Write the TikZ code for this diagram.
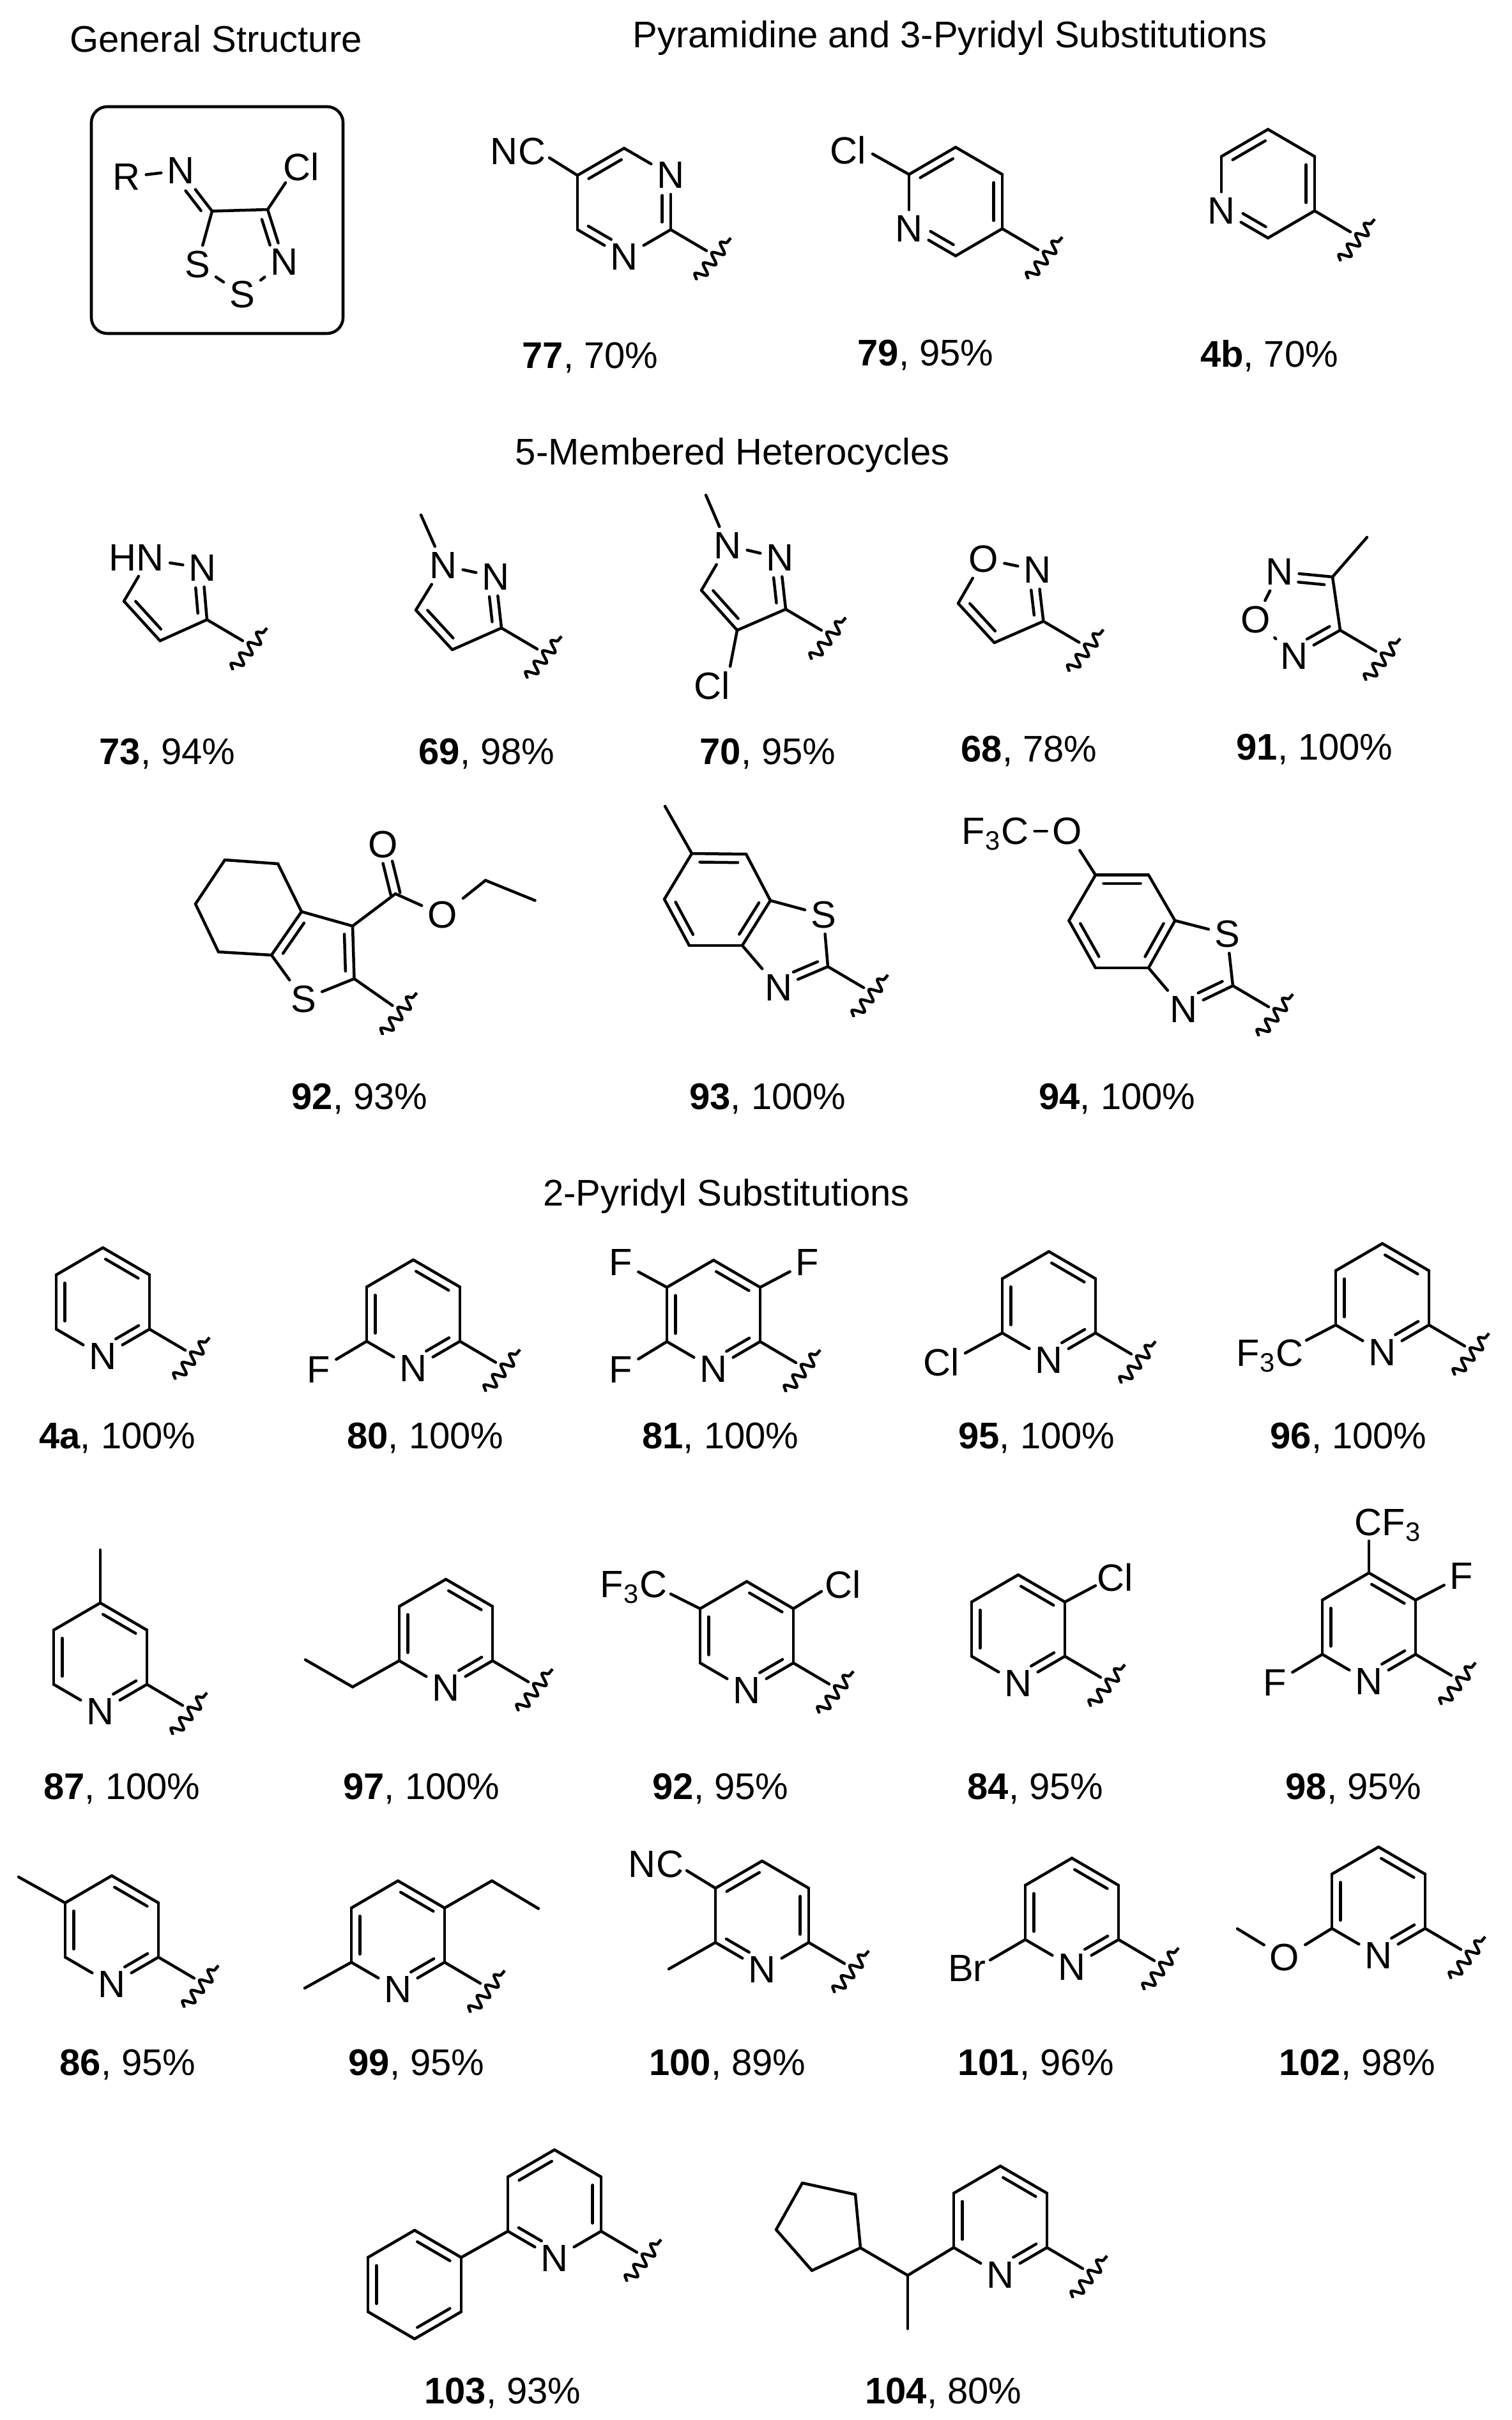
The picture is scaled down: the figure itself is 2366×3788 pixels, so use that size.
\documentclass[tikz,border=0pt]{standalone}
\usepackage{fontspec}
\setmainfont{Liberation Sans}
\usetikzlibrary{calc,decorations.pathmorphing}

\newcommand\chemfont{\fontsize{13.92}{16}\selectfont}
\newcommand\atomfont{\fontsize{14.3}{16}\selectfont}

\tikzset{
    bond/.style={line width=1.08pt,line cap=round},
    wavy/.style={line width=1.08pt,decorate,decoration={snake,segment length=5.05pt,amplitude=2pt}},
    atom/.style={inner sep=2.2pt,outer sep=0pt,text depth=0pt,font=\atomfont},
    title/.style={inner sep=0pt,anchor=base,font=\chemfont},
    cpd/.style={inner sep=0pt,anchor=base,font=\chemfont},
    genbox/.style={line width=1.1pt,rounded corners=6pt}
}

\newcommand\hexring[3]{
    \coordinate (#11) at (#2,#3-85);
    \coordinate (#12) at (#2+73,#3-42.5);
    \coordinate (#13) at (#2+73,#3+42.5);
    \coordinate (#14) at (#2,#3+85);
    \coordinate (#15) at (#2-73,#3+42.5);
    \coordinate (#16) at (#2-73,#3-42.5);
}
\newcommand\hexbonds[1]{
    \foreach \i/\j in {1/2,2/3,3/4,4/5,5/6,6/1}
    {
        \draw[bond] (#1\i) -- (#1\j);
    }
}
\newcommand\bonds[1]{
    \foreach \a/\b in {#1}
    {
        \draw[bond] (\a) -- (\b);
    }
}
\newcommand\dblf[4]{\draw[bond] ($(#1)!#3!(#2)!3.2pt!-90:(#2)$) -- ($(#1)!#4!(#2)!3.2pt!90:(#1)$);}
\newcommand\dbl[2]{\dblf{#1}{#2}{0.15}{0.85}}
\newcommand\dbls[2]{\dblf{#1}{#2}{0.37}{0.86}}
\newcommand\dble[2]{\dblf{#1}{#2}{0.14}{0.63}}
\newcommand\exodbl[2]{
    \draw[bond] ($(#1)!1.8pt!90:(#2)$) -- ($(#1)!0.64!(#2)!1.8pt!-90:(#1)$);
    \draw[bond] ($(#1)!1.8pt!-90:(#2)$) -- ($(#1)!0.64!(#2)!1.8pt!90:(#1)$);
}
\newcommand\wave[2][56,33]{
    \coordinate (#2e) at ($(#2)+(#1)$);
    \coordinate (#2a) at ($(#2e)+(-16,46)$);
    \coordinate (#2b) at ($(#2e)+(38,-20)$);
    \draw[bond] (#2) -- (#2e);
    \draw[wavy] (#2a) -- (#2b);
}
\newcommand\pyrA[3]{
    \hexring{#1}{#2}{#3}
    \node[atom] (#14) at (#14) {N};
    \hexbonds{#1}
    \dbl{#11}{#12}
    \dble{#13}{#14}
    \dbl{#15}{#16}
    \wave{#13}
}
\newcommand\pyrB[3]{
    \hexring{#1}{#2}{#3}
    \node[atom] (#14) at (#14) {N};
    \hexbonds{#1}
    \dbl{#16}{#11}
    \dbl{#12}{#13}
    \dbls{#14}{#15}
    \wave{#13}
}
\newcommand\pyrC[3]{
    \hexring{#1}{#2}{#3}
    \node[atom] (#15) at (#15) {N};
    \hexbonds{#1}
    \dbl{#16}{#11}
    \dbl{#12}{#13}
    \dble{#14}{#15}
    \wave{#13}
}

\begin{document}
\begin{tikzpicture}[x=0.24pt,y=-0.24pt]

\useasboundingbox (0,0) rectangle (2366,3788);

\node[title] (tgen) at (338,82) {General Structure};
\node[title] (tpyr) at (1487,75) {Pyramidine and 3-Pyridyl Substitutions};
\node[title] (tfive) at (1147,728) {5-Membered Heterocycles};
\node[title] (ttwo) at (1137,1887) {2-Pyridyl Substitutions};

\foreach \x/\y/\num/\yld in {
    924/577/77/70,1449/573/79/95,1987/575/4b/70,
    262/1196/73/94,762/1196/69/98,1202/1196/70/95,1611/1192/68/78,2058/1189/91/100,
    563/1736/92/93,1202/1736/93/100,1749/1736/94/100,
    184/2267/4a/100,666/2267/80/100,1128/2267/81/100,1623/2267/95/100,2111/2267/96/100,
    191/2816/87/100,660/2816/97/100,1128/2816/92/95,1621/2816/84/95,2119/2816/98/95,
    200/3248/86/95,652/3248/99/95,1139/3248/100/89,1622/3248/101/96,2125/3248/102/98,
    787/3762/103/93,1477/3762/104/80}
{
    \node[cpd] (lbl\num-\yld) at (\x,\y) {\textbf{\num}, \yld\%};
}

\draw[genbox] (143,167) rectangle (537,522);
\node[atom] (gr) at (198,277) {R};
\node[atom] (gn) at (283,267) {N};
\node[atom] (gcl) at (472,261) {Cl};
\node[atom] (gs1) at (309,414) {S};
\node[atom] (gs2) at (379,461) {S};
\node[atom] (gn2) at (445,410) {N};
\coordinate (gc1) at (332,330.5);
\coordinate (gc2) at (419,328);
\coordinate (gcle) at (447,286);
\bonds{gr/gn,gn/gc1,gc1/gc2,gc2/gcle,gc1/gs1,gs1/gs2,gs2/gn2,gn2/gc2}
\dbls{gn}{gc1}
\dble{gc2}{gn2}

\hexring{m77}{977}{317}
\node[atom] (m772) at (m772) {N};
\node[atom] (m774) at (m774) {N};
\hexbonds{m77}
\dbl{m776}{m771}
\dbls{m772}{m773}
\dbls{m774}{m775}
\wave{m773}
\node[atom] (m77cn) at (811,237) {NC};
\coordinate (m77cne) at (860,247);
\bonds{m776/m77cne}

\pyrC{m79}{1496}{315.5}
\node[atom] (m79cl) at (1328,235) {Cl};
\coordinate (m79cle) at (1366,241);
\bonds{m796/m79cle}

\pyrC{m4b}{1985}{287.5}

\node[atom] (m73n1) at (214,873) {HN};
\node[atom] (m73n2) at (317,889) {N};
\coordinate (m73c3) at (324,970);
\coordinate (m73c4) at (250.5,1003);
\coordinate (m73c5) at (194,941);
\coordinate (m73n1e) at (217,902);
\bonds{m73n1/m73n2,m73n2/m73c3,m73c3/m73c4,m73c4/m73c5,m73c5/m73n1e}
\dbls{m73n2}{m73c3}
\dbl{m73c4}{m73c5}
\wave{m73c3}

\node[atom] (m69n1) at (694,885) {N};
\node[atom] (m69n2) at (776,903) {N};
\coordinate (m69c3) at (785,983);
\coordinate (m69c4) at (708,1017);
\coordinate (m69c5) at (651,955);
\coordinate (m69me) at (659,806);
\bonds{m69n1/m69n2,m69n2/m69c3,m69c3/m69c4,m69c4/m69c5,m69c5/m69n1,m69n1/m69me}
\dbls{m69n2}{m69c3}
\dbl{m69c4}{m69c5}
\wave{m69c3}

\node[atom] (m70n1) at (1139,854) {N};
\node[atom] (m70n2) at (1221,873) {N};
\node[atom] (m70cl) at (1115,1073) {Cl};
\coordinate (m70c3) at (1230,953.6);
\coordinate (m70c4) at (1154,986.5);
\coordinate (m70c5) at (1098,924);
\coordinate (m70me) at (1105,775);
\coordinate (m70cle) at (1143,1043);
\bonds{m70n1/m70n2,m70n2/m70c3,m70c3/m70c4,m70c4/m70c5,m70c5/m70n1,m70n1/m70me,m70c4/m70cle}
\dbls{m70n2}{m70c3}
\dbl{m70c4}{m70c5}
\wave{m70c3}

\node[atom] (m68o) at (1540,875) {O};
\node[atom] (m68n) at (1624,892.5) {N};
\coordinate (m68c3) at (1633.4,972.5);
\coordinate (m68c4) at (1556.5,1006);
\coordinate (m68c5) at (1500,944.5);
\bonds{m68o/m68n,m68n/m68c3,m68c3/m68c4,m68c4/m68c5,m68c5/m68o}
\dbls{m68n}{m68c3}
\dbl{m68c4}{m68c5}
\wave{m68c3}

\node[atom] (m91n1) at (2003,895) {N};
\node[atom] (m91o) at (1965.4,970) {O};
\node[atom] (m91n2) at (2026,1027) {N};
\coordinate (m91c1) at (2086,903);
\coordinate (m91c2) at (2098,986.5);
\coordinate (m91me) at (2140,841);
\bonds{m91n1/m91c1,m91c1/m91c2,m91c2/m91n2,m91n2/m91o,m91o/m91n1,m91c1/m91me}
\dbls{m91n1}{m91c1}
\dble{m91c2}{m91n2}
\wave{m91c2}

\node[atom] (m92s) at (475,1564) {S};
\node[atom] (m92o1) at (600,1322) {O};
\node[atom] (m92o2) at (692.6,1432) {O};
\coordinate (m92a) at (352,1346);
\coordinate (m92b) at (435,1352);
\coordinate (m92c) at (472,1427);
\coordinate (m92d) at (425,1495);
\coordinate (m92e) at (342,1490);
\coordinate (m92f) at (306,1415);
\coordinate (m92g) at (552,1449.5);
\coordinate (m92h) at (554.5,1532);
\coordinate (m92i) at (619,1399);
\coordinate (m92j) at (760,1378);
\coordinate (m92k) at (837.5,1409.5);
\bonds{m92a/m92b,m92b/m92c,m92c/m92d,m92d/m92e,m92e/m92f,m92f/m92a,m92c/m92g,m92g/m92h,m92h/m92s,m92s/m92d,m92g/m92i,m92i/m92o2,m92o2/m92j,m92j/m92k}
\dbl{m92d}{m92c}
\dbl{m92g}{m92h}
\exodbl{m92i}{m92o1}
\wave[60,42]{m92h}

\node[atom] (m93s) at (1289,1432) {S};
\node[atom] (m93n) at (1218.5,1546) {N};
\coordinate (m93a) at (1083,1336);
\coordinate (m93b) at (1168,1337);
\coordinate (m93c) at (1206,1409.6);
\coordinate (m93d) at (1162,1480);
\coordinate (m93e) at (1079,1480);
\coordinate (m93f) at (1040,1407.5);
\coordinate (m93g) at (1296,1513);
\coordinate (m93me) at (1041,1262);
\bonds{m93a/m93b,m93b/m93c,m93c/m93d,m93d/m93e,m93e/m93f,m93f/m93a,m93a/m93me,m93c/m93s,m93s/m93g,m93g/m93n,m93n/m93d}
\dbl{m93a}{m93b}
\dbl{m93c}{m93d}
\dbl{m93e}{m93f}
\dble{m93g}{m93n}
\wave{m93g}

\node[atom] (m94s) at (1921,1462) {S};
\node[atom] (m94n) at (1853,1580) {N};
\node[atom] (m94o) at (1671,1301) {O};
\node[atom] (m94cf) at (1558,1301) {F\textsubscript{3}C};
\coordinate (m94a) at (1715,1369.6);
\coordinate (m94b) at (1798,1369.6);
\coordinate (m94c) at (1839.4,1441);
\coordinate (m94d) at (1798,1515);
\coordinate (m94e) at (1715,1515);
\coordinate (m94f) at (1673.4,1441);
\coordinate (m94g) at (1930,1543);
\bonds{m94a/m94b,m94b/m94c,m94c/m94d,m94d/m94e,m94e/m94f,m94f/m94a,m94a/m94o,m94o/m94cf,m94c/m94s,m94s/m94g,m94g/m94n,m94n/m94d}
\dbl{m94a}{m94b}
\dbl{m94c}{m94d}
\dbl{m94e}{m94f}
\dble{m94g}{m94n}
\wave{m94g}

\pyrA{m4a}{161}{2038}

\pyrA{m80}{647}{2057}
\node[atom] (m80f) at (499,2144) {F};
\bonds{m805/m80f}

\pyrA{m81}{1117}{2057.5}
\node[atom] (m81f1) at (972,1976) {F};
\node[atom] (m81f2) at (972,2144) {F};
\node[atom] (m81f3) at (1264,1976) {F};
\bonds{m816/m81f1,m815/m81f2,m812/m81f3}

\pyrA{m95}{1642}{2044}
\node[atom] (m95cl) at (1474,2131.5) {Cl};
\coordinate (m95cle) at (1511,2118);
\bonds{m955/m95cle}

\pyrA{m96}{2164}{2031.5}
\node[atom] (m96cf) at (1988,2118) {F\textsubscript{3}C};
\coordinate (m96cfe) at (2045,2098);
\bonds{m965/m96cfe}

\pyrA{m87}{157}{2594}
\coordinate (m87me) at (157,2426);
\bonds{m871/m87me}

\pyrA{m97}{698}{2557}
\coordinate (m97a) at (552,2640.5);
\coordinate (m97b) at (478,2598);
\bonds{m975/m97a,m97a/m97b}

\pyrA{m92p}{1169}{2560.5}
\node[atom] (m92pcf) at (992,2480) {F\textsubscript{3}C};
\node[atom] (m92pcl) at (1320,2480) {Cl};
\coordinate (m92pcfe) at (1050,2495);
\coordinate (m92pcle) at (1286,2491);
\bonds{m92p6/m92pcfe,m92p2/m92pcle}

\pyrA{m84}{1594}{2550}
\node[atom] (m84cl) at (1746,2469) {Cl};
\coordinate (m84cle) at (1715,2482);
\bonds{m842/m84cle}

\pyrA{m98}{2143}{2547}
\node[atom] (m98cf) at (2173,2383) {CF\textsubscript{3}};
\node[atom] (m98f1) at (2288,2467) {F};
\node[atom] (m98f2) at (1996,2634) {F};
\coordinate (m98cfe) at (2143,2412);
\bonds{m981/m98cfe,m982/m98f1,m985/m98f2}

\pyrA{m86}{175}{3021}
\coordinate (m86me) at (29,2938);
\bonds{m866/m86me}

\pyrA{m99}{623}{3029}
\coordinate (m99a) at (770,2944);
\coordinate (m99b) at (843,2987.5);
\coordinate (m99me) at (477,3112);
\bonds{m992/m99a,m99a/m99b,m995/m99me}

\pyrB{m100}{1193}{2998}
\node[atom] (m100cn) at (1027,2918) {NC};
\coordinate (m100cne) at (1075,2928);
\coordinate (m100me) at (1047,3082);
\bonds{m1006/m100cne,m1005/m100me}

\pyrA{m101}{1678}{2993.5}
\node[atom] (m101br) at (1514,3081) {Br};
\coordinate (m101bre) at (1550,3068);
\bonds{m1015/m101bre}

\pyrA{m102}{2158}{2976}
\node[atom] (m102o) at (2011,3064) {O};
\coordinate (m102me) at (1937,3019);
\bonds{m1025/m102o,m102o/m102me}

\pyrB{m103}{868}{3450}
\hexring{m103r}{649}{3576}
\hexbonds{m103r}
\dbl{m103r1}{m103r2}
\dbl{m103r3}{m103r4}
\dbl{m103r5}{m103r6}
\bonds{m1035/m103r2}

\pyrA{m104}{1566}{3475.5}
\coordinate (m104ch) at (1421,3561.6);
\coordinate (m104me) at (1421,3645);
\coordinate (m104a) at (1347,3518.5);
\coordinate (m104b) at (1271,3554);
\coordinate (m104c) at (1215,3490);
\coordinate (m104d) at (1256,3417);
\coordinate (m104e) at (1339,3435);
\bonds{m1045/m104ch,m104ch/m104me,m104ch/m104a,m104a/m104b,m104b/m104c,m104c/m104d,m104d/m104e,m104e/m104a}

\end{tikzpicture}
\end{document}
